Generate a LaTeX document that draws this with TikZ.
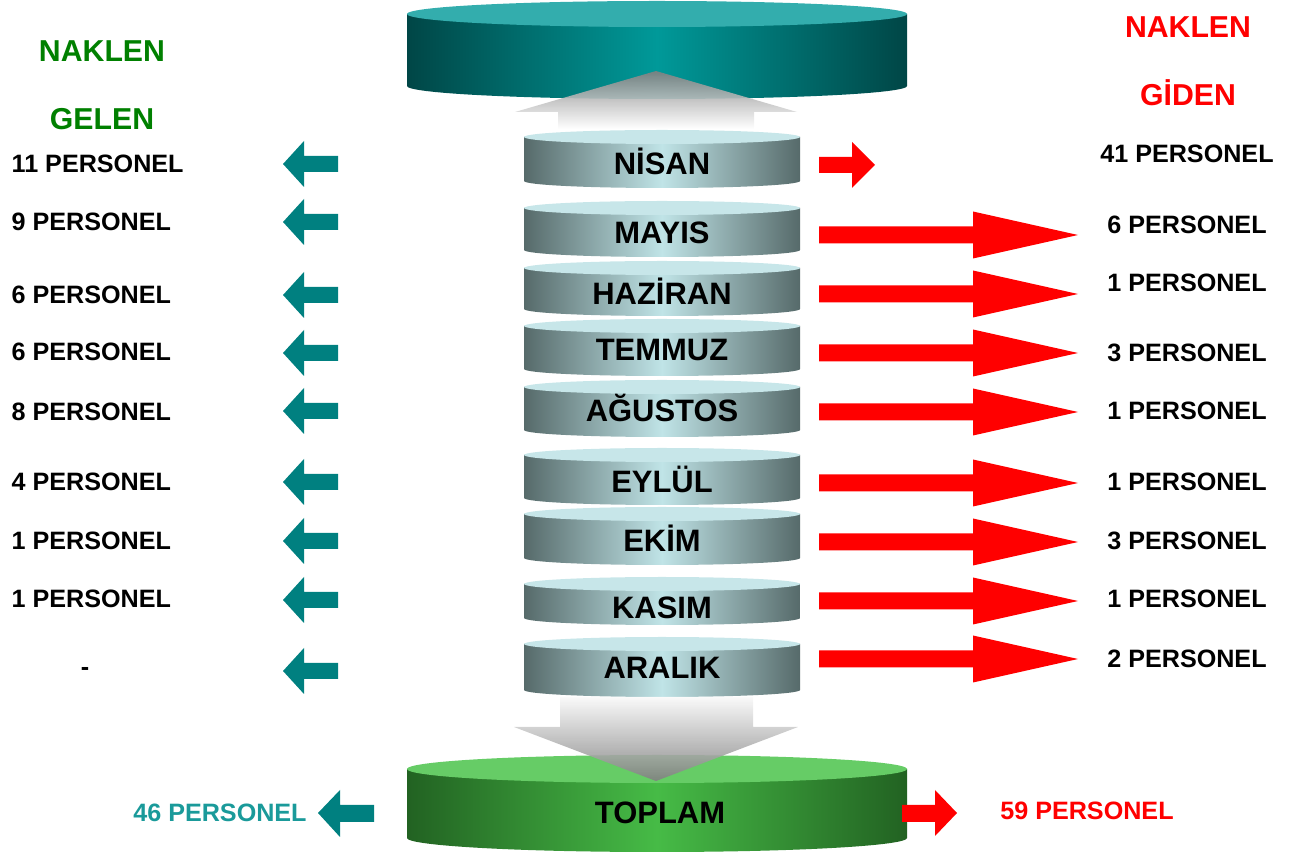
\documentclass[tikz,border=0pt]{standalone}
\usepackage{fontspec}
\setmainfont{Liberation Sans}

\definecolor{tealdark}{RGB}{0,70,70}
\definecolor{tealmid}{RGB}{0,153,153}
\definecolor{tealtop}{RGB}{51,173,173}
\definecolor{slate}{RGB}{86,106,106}
\definecolor{ice}{RGB}{192,228,231}
\definecolor{icetop}{RGB}{199,230,233}
\definecolor{greendark}{RGB}{34,98,34}
\definecolor{greenmid}{RGB}{70,187,70}
\definecolor{greentop}{RGB}{102,204,102}
\definecolor{tealarrow}{RGB}{0,128,128}
\definecolor{headgreen}{RGB}{0,128,0}
\definecolor{totalteal}{RGB}{26,154,154}

\tikzset{
  perstext/.style={font=\bfseries\fontsize{7.15}{8}\selectfont, inner sep=0pt},
  bigtext/.style={font=\bfseries\fontsize{8.6}{10}\selectfont, inner sep=0pt},
  monthtext/.style={font=\bfseries\fontsize{8.8}{10}\selectfont, inner sep=0pt},
  monthside/.style={left color=slate, right color=slate, middle color=ice},
  incoming/.style={fill=tealarrow},
  outgoing/.style={fill=red}
}

\begin{document}
\begin{tikzpicture}[x=0.01cm, y=-0.01cm]
    \useasboundingbox (0,0) rectangle (1290,855);

    % Top disc
    \shade[left color=tealdark, right color=tealdark, middle color=tealmid]
        (407,14) -- (407,86) arc[start angle=180, end angle=0, x radius=250, y radius=13] -- (907,14) -- cycle;
    \fill[tealtop] (657,14) ellipse[x radius=250, y radius=13];

    % Up arrow into the top disc
    \shade[top color=gray, bottom color=white, fill opacity=0.9]
        (558,129) -- (558,112) -- (515,112) -- (656,71) -- (797,112) -- (754,112) -- (754,129) -- cycle;

    % Month discs
    \foreach \mname/\yt/\yb/\yl [count=\i] in {NİSAN/137/181/161, MAYIS/208/250/233, HAZİRAN/268/309/291,
        TEMMUZ/326/369/350, AĞUSTOS/387/430/408, EYLÜL/455/498/479, EKİM/514/558/538,
        KASIM/584/618/608, ARALIK/644/690/668} {
        \shade[monthside] (524,\yt) -- (524,\yb) arc[start angle=180, end angle=0, x radius=138, y radius=7] -- (800,\yt) -- cycle;
        \fill[icetop] (662,\yt) ellipse[x radius=138, y radius=7];
        \node[monthtext] (month\i) at (662,\yl) {\mname};
    }

    % Bottom disc
    \shade[left color=greendark, right color=greendark, middle color=greenmid]
        (407,769) -- (407,838) arc[start angle=180, end angle=0, x radius=250, y radius=14] -- (907,769) -- cycle;
    \fill[greentop] (657,769) ellipse[x radius=250, y radius=14];

    % Down arrow into the bottom disc
    \shade[top color=white!95!gray, bottom color=gray, fill opacity=0.9]
        (560,697) -- (753,697) -- (753,727) -- (798,727) -- (656,781) -- (514,727) -- (560,727) -- cycle;
    \node[monthtext] (total) at (660,813) {TOPLAM};

    % Headings
    \node[bigtext, text=headgreen] (inhead) at (102,51) {NAKLEN};
    \node[bigtext, text=headgreen] (insub) at (102,119) {GELEN};
    \node[bigtext, text=red] (outhead) at (1188,27) {NAKLEN};
    \node[bigtext, text=red] (outsub) at (1188,93) {GİDEN};

    % Incoming arrows (left)
    \foreach \y in {164,222,295,353,411,482,541,600,671} {
        \fill[incoming] (338,\y-8) -- (304,\y-8) -- (304,\y-23) -- (283,\y) -- (304,\y+23) -- (304,\y+8) -- (338,\y+8) -- cycle;
    }
    \foreach \n/\y [count=\i] in {11/164, 9/222, 6/295, 6/352, 8/412, 4/482, 1/541, 1/599} {
        \node[perstext, anchor=west] (in\i) at (11,\y) {\n{} PERSONEL};
    }
    \node[perstext] (in9) at (85,671) {-};

    % Outgoing arrows (right)
    \fill[outgoing] (819,157) -- (852,157) -- (852,142) -- (875,165) -- (852,188) -- (852,173) -- (819,173) -- cycle;
    \foreach \y in {235,294,353,412,483,542,601,659} {
        \fill[outgoing] (819,\y-8.5) -- (973,\y-8.5) -- (973,\y-23.5) -- (1078,\y) -- (973,\y+23.5) -- (973,\y+8.5) -- (819,\y+8.5) -- cycle;
    }
    \foreach \n/\y [count=\i] in {41/154, 6/225, 1/283, 3/353, 1/411, 1/482, 3/541, 1/599, 2/659} {
        \node[perstext] (out\i) at (1187,\y) {\n{} PERSONEL};
    }

    % Totals
    \fill[incoming] (374,805) -- (340,805) -- (340,790) -- (318,813) -- (340,837) -- (340,822) -- (374,822) -- cycle;
    \fill[outgoing] (902,805) -- (935,805) -- (935,790) -- (957,813) -- (935,836) -- (935,822) -- (902,822) -- cycle;
    \node[perstext, text=totalteal] (intotal) at (220,813) {46 PERSONEL};
    \node[perstext, text=red] (outtotal) at (1087,811) {59 PERSONEL};
\end{tikzpicture}
\end{document}
